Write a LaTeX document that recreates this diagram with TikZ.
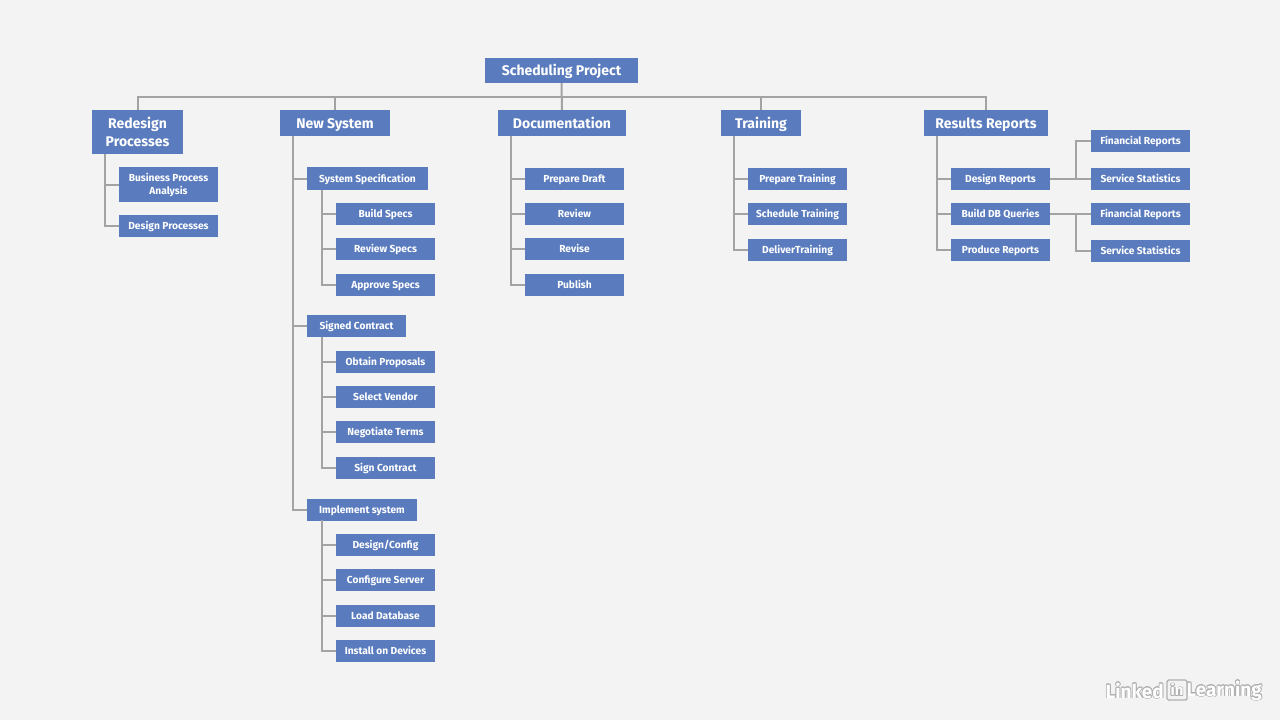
\documentclass[tikz,border=0pt]{standalone}
\usepackage{fontspec}
\usepackage[copies]{contour}
\setmainfont{Fira Sans}
\definecolor{pageBg}{HTML}{F3F3F3}
\definecolor{boxBlue}{HTML}{5A7CBE}
\definecolor{lineGray}{HTML}{A3A3A3}
\definecolor{logoGray}{HTML}{B0B0B0}

\begin{document}
\begin{tikzpicture}[x = 1pt, y = -1pt, font=\bfseries]
	\tikzstyle{topStyle}=[shape = rectangle, fill = boxBlue, text = white, inner sep = 0pt, align = center, text height = 12pt, text depth = 2pt, font = \fontsize{14}{18}\selectfont\bfseries]
	\tikzstyle{subStyle}=[shape = rectangle, fill = boxBlue, text = white, inner sep = 0pt, align = center, minimum height = 22pt, minimum width = 99pt, text height = 8.5pt, text depth = 1.5pt, font = \fontsize{10.2}{13}\selectfont\bfseries]
	\tikzstyle{twoLines}=[text height = , text depth = ]
	\tikzstyle{linkStyle}=[draw = lineGray, line width = 2pt]
	\fill[pageBg] (0,0) rectangle (1280,720);
	\useasboundingbox (0,0) rectangle (1280,720);
	% top row
	\node[topStyle, minimum width = 153pt, minimum height = 25pt] (project) at (561.5,70.5) {Scheduling Project};
	\node[topStyle, twoLines, minimum width = 91pt, minimum height = 44pt] (redesign) at (137.5,132) {Redesign\\Processes};
	\node[topStyle, minimum width = 110pt, minimum height = 26pt] (newsys) at (335,123) {New System};
	\node[topStyle, minimum width = 128pt, minimum height = 26pt] (docs) at (562,123) {Documentation};
	\node[topStyle, minimum width = 80pt, minimum height = 26pt] (training) at (761,123) {Training};
	\node[topStyle, minimum width = 124pt, minimum height = 26pt] (results) at (986,123) {Results Reports};
	% redesign
	\node[subStyle, twoLines, minimum height = 35pt] (bpa) at (168.5,184.5) {Business Process\\Analysis};
	\node[subStyle] (dproc) at (168.5,226) {Design Processes};
	% new system
	\node[subStyle, minimum width = 121pt, minimum height = 23pt] (spec) at (367.5,178.5) {System Specification};
	\node[subStyle] (bspecs) at (385.5,214) {Build Specs};
	\node[subStyle] (rspecs) at (385.5,249) {Review Specs};
	\node[subStyle] (aspecs) at (385.5,284.5) {Approve Specs};
	\node[subStyle] (signed) at (356.5,326) {Signed Contract};
	\node[subStyle] (obtain) at (385.5,361.5) {Obtain Proposals};
	\node[subStyle] (vendor) at (385.5,397) {Select Vendor};
	\node[subStyle] (terms) at (385.5,432) {Negotiate Terms};
	\node[subStyle] (sign) at (385.5,467.5) {Sign Contract};
	\node[subStyle, minimum width = 110pt] (impl) at (362,509.5) {Implement system};
	\node[subStyle] (config) at (385.5,545) {Design/Config};
	\node[subStyle] (server) at (385.5,580) {Configure Server};
	\node[subStyle] (load) at (385.5,615.5) {Load Database};
	\node[subStyle] (install) at (385.5,651) {Install on Devices};
	% documentation
	\node[subStyle] (draft) at (574.5,178.5) {Prepare Draft};
	\node[subStyle] (review) at (574.5,214) {Review};
	\node[subStyle] (revise) at (574.5,249) {Revise};
	\node[subStyle] (publish) at (574.5,284.5) {Publish};
	% training
	\node[subStyle] (ptrain) at (797.5,178.5) {Prepare Training};
	\node[subStyle] (strain) at (797.5,214) {Schedule Training};
	\node[subStyle] (dtrain) at (797.5,249.5) {DeliverTraining};
	% results
	\node[subStyle] (dreports) at (1000.5,178.5) {Design Reports};
	\node[subStyle] (queries) at (1000.5,214) {Build DB Queries};
	\node[subStyle] (preports) at (1000.5,249.5) {Produce Reports};
	\node[subStyle] (fin1) at (1140.5,141) {Financial Reports};
	\node[subStyle] (stat1) at (1140.5,178.5) {Service Statistics};
	\node[subStyle] (fin2) at (1140.5,214) {Financial Reports};
	\node[subStyle] (stat2) at (1140.5,250.5) {Service Statistics};
	% trunk tops and joints
	\coordinate (bus) at (561.5,97);
	\coordinate (redesignT) at (105,154);
	\coordinate (newsysT) at (293,136);
	\coordinate (specT) at (322,190);
	\coordinate (signedT) at (322,337);
	\coordinate (implT) at (322,520);
	\coordinate (docsT) at (511,136);
	\coordinate (trainingT) at (734,136);
	\coordinate (resultsT) at (937,136);
	\coordinate (joint1) at (1076,178.5);
	\coordinate (joint2) at (1076,214);
	% connectors
	\draw[linkStyle] (project.south) -- (docs.north);
	\draw[linkStyle] (redesign.north) |- (bus) -| (results.north);
	\draw[linkStyle] (newsys.north) -- (newsys.north |- bus);
	\draw[linkStyle] (training.north) -- (training.north |- bus);
	\foreach \kid in {bpa, dproc} \draw[linkStyle] (redesignT) |- (\kid.west);
	\foreach \kid in {spec, signed, impl} \draw[linkStyle] (newsysT) |- (\kid.west);
	\foreach \kid in {bspecs, rspecs, aspecs} \draw[linkStyle] (specT) |- (\kid.west);
	\foreach \kid in {obtain, vendor, terms, sign} \draw[linkStyle] (signedT) |- (\kid.west);
	\foreach \kid in {config, server, load, install} \draw[linkStyle] (implT) |- (\kid.west);
	\foreach \kid in {draft, review, revise, publish} \draw[linkStyle] (docsT) |- (\kid.west);
	\foreach \kid in {ptrain, strain, dtrain} \draw[linkStyle] (trainingT) |- (\kid.west);
	\foreach \kid in {dreports, queries, preports} \draw[linkStyle] (resultsT) |- (\kid.west);
	\draw[linkStyle] (dreports.east) -- (stat1.west);
	\draw[linkStyle] (joint1) |- (fin1.west);
	\draw[linkStyle] (queries.east) -- (fin2.west);
	\draw[linkStyle] (joint2) |- (stat2.west);
	% logo
	\contourlength{0.7pt}
	\node[anchor = east, inner sep = 0pt, font = \fontsize{19}{20}\selectfont\bfseries, text = white] (brandB) at (1262,691) {\contour{logoGray}{Learning}};
	\node[anchor = center, inner sep = 0pt, draw = logoGray, line width = 1.4pt, rounded corners = 1.5pt, font = \fontsize{15}{18}\selectfont\bfseries, text = white, minimum height = 20pt, minimum width = 20pt] (brandI) at (1177,690) {\contour{logoGray}{in}};
	\node[anchor = east, inner sep = 0pt, font = \fontsize{19}{20}\selectfont\bfseries, text = white] (brandA) at (1164,691) {\contour{logoGray}{Linked}};
\end{tikzpicture}
\end{document}
